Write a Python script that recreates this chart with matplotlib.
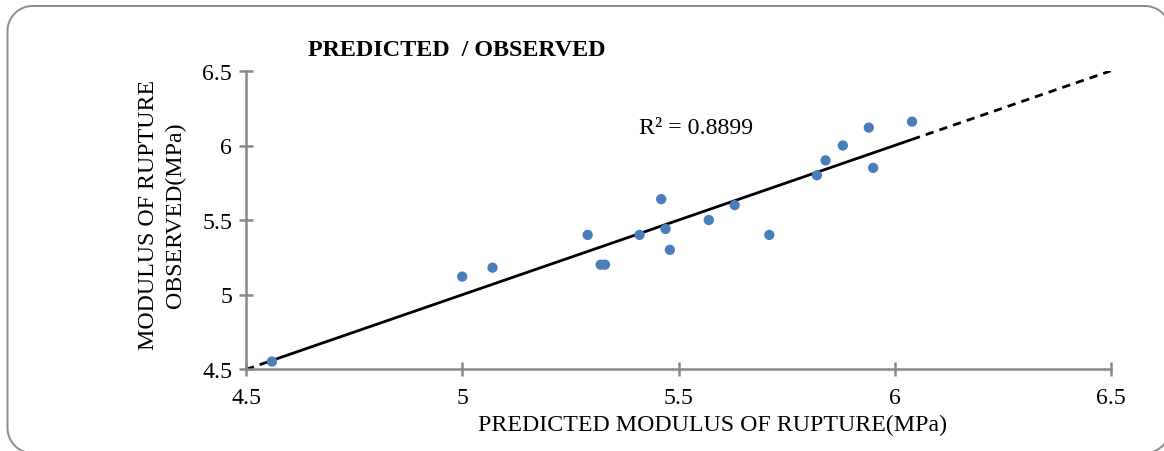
import numpy as np
import matplotlib
matplotlib.use("Agg")
import matplotlib.pyplot as plt
from matplotlib.lines import Line2D

# ---- data ----
predicted = [4.56, 5.00, 5.07, 5.29, 5.32, 5.33, 5.41, 5.46, 5.47, 5.48,
             5.57, 5.63, 5.71, 5.82, 5.84, 5.88, 5.94, 5.95, 6.04]
observed = [4.55, 5.12, 5.18, 5.40, 5.20, 5.20, 5.40, 5.64, 5.44, 5.30,
            5.50, 5.60, 5.40, 5.80, 5.90, 6.00, 6.12, 5.85, 6.16]
x_ticks = [4.5, 5, 5.5, 6, 6.5]
y_ticks = [4.5, 5, 5.5, 6, 6.5]
title = "PREDICTED  / OBSERVED"
x_label = "PREDICTED MODULUS OF RUPTURE(MPa)"
y_label = "MODULUS OF RUPTURE\nOBSERVED(MPa)"
r2_label = "R\u00b2 = 0.8899"

plt.rcParams['font.family'] = ['Liberation Serif', 'DejaVu Serif']

W, H, DPI = 1164, 452, 100
FS = 17.2
fig = plt.figure(figsize=(W / DPI, H / DPI), dpi=DPI)

# rounded outer border, built in image pixel coords (y down) then mapped to figure fraction
def rounded_rect(x0, y0, x1, y1, r, n=20):
    pts = []
    corners = [(x1 - r, y0 + r, -90, 0), (x1 - r, y1 - r, 0, 90),
               (x0 + r, y1 - r, 90, 180), (x0 + r, y0 + r, 180, 270)]
    for cx, cy, a0, a1 in corners:
        for t in np.linspace(np.radians(a0), np.radians(a1), n):
            pts.append((cx + r * np.cos(t), cy + r * np.sin(t)))
    pts.append(pts[0])
    return np.array(pts)

bp = rounded_rect(7.5, 7.0, 1170.0, 454.0, 25.0)
fig.add_artist(Line2D(bp[:, 0] / W, 1 - bp[:, 1] / H, transform=fig.transFigure,
                      color='#8c8c8c', lw=1.4, clip_on=False))

left, right, top, bottom = 246 / W, 1111 / W, 72 / H, 370 / H
ax = fig.add_axes([left, 1 - bottom, right - left, bottom - top])
ax.set_xlim(4.5, 6.5)
ax.set_ylim(4.5, 6.5)

xs = np.array(predicted)
ys = np.array(observed)
slope, intercept = np.polyfit(xs, ys, 1)
xmin, xmax = xs.min(), xs.max()

ax.plot([xmin, xmax], [slope * xmin + intercept, slope * xmax + intercept],
        color='black', lw=2.0, solid_capstyle='butt', zorder=2)
for a, b in [(4.5, xmin), (xmax, 6.5)]:
    ax.plot([a, b], [slope * a + intercept, slope * b + intercept],
            color='black', lw=2.0, ls=(0, (3, 2.2)), zorder=2)

ax.scatter(xs, ys, s=55, color='#4a7ebb', edgecolors='none', zorder=3)

for s in ['top', 'right']:
    ax.spines[s].set_visible(False)
for s in ['left', 'bottom']:
    ax.spines[s].set_color('#898989')
    ax.spines[s].set_linewidth(1.8)

ax.set_xticks(x_ticks)
ax.set_yticks(y_ticks)
ax.set_xticklabels([f"{v:g}" for v in x_ticks])
ax.set_yticklabels([f"{v:g}" for v in y_ticks])
ax.tick_params(axis='both', direction='inout', length=10, width=1.8, color='#898989',
               labelsize=FS, labelcolor='black')
ax.tick_params(axis='x', pad=8)
ax.tick_params(axis='y', pad=5)

fig.text(639 / W, 1 - 128 / H, r2_label, fontsize=FS, ha='left', va='center')
fig.text(308 / W, 1 - 50 / H, title, fontsize=17.4, fontweight='bold', ha='left', va='center')
fig.text(712 / W, 1 - 425 / H, x_label, fontsize=FS, ha='center', va='center')
fig.text(162 / W, 1 - 215 / H, y_label, fontsize=FS, ha='center', va='center',
         rotation=90, multialignment='center', linespacing=1.4)

fig.savefig("out.png", dpi=DPI, facecolor='white')
